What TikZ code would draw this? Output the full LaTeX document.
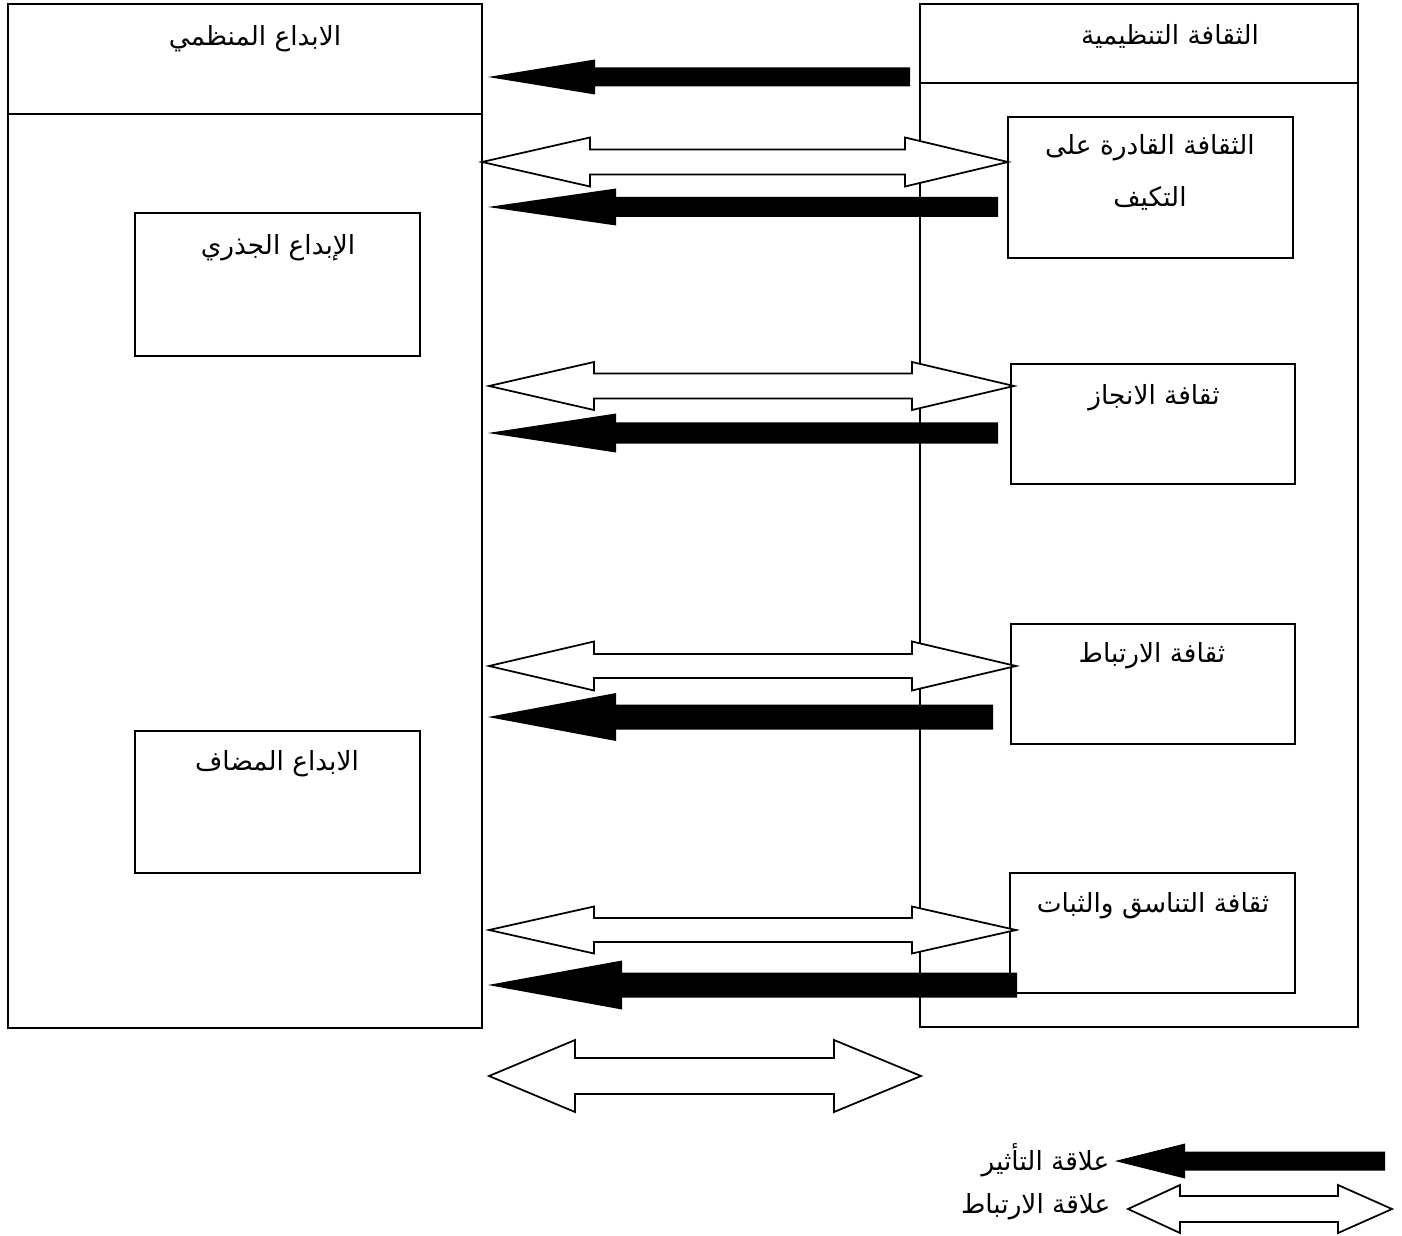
\documentclass[tikz,border=0pt]{standalone}
\usepackage{fontspec}
\newfontfamily\arabicfont[Script=Arabic]{DejaVu Sans}
\TeXXeTstate=1
\usepackage{tikz}
\usetikzlibrary{}

% influence arrow: tip x, y, head base x, tail x, shaft half, head half
\newcommand{\effectarrow}[6]{%
  \fill (#1,#2) -- (#3,#2-#6) -- (#3,#2-#5) -- (#4,#2-#5) -- (#4,#2+#5)
    -- (#3,#2+#5) -- (#3,#2+#6) -- cycle;}
% link arrow: left tip, left base, right base, right tip, y, shaft half, head half
\newcommand{\linkarrow}[7]{%
  \draw[fill=white] (#1,#5) -- (#2,#5-#7) -- (#2,#5-#6) -- (#3,#5-#6) -- (#3,#5-#7)
    -- (#4,#5) -- (#3,#5+#7) -- (#3,#5+#6) -- (#2,#5+#6) -- (#2,#5+#7) -- cycle;}

\tikzset{
  lbl/.style={font=\arabicfont\fontsize{15}{19}\selectfont, inner sep=1pt},
}

\begin{document}
\begin{tikzpicture}[x=0.02cm,y=-0.02cm,line width=1pt]
  \useasboundingbox (0,0) rectangle (1402,1236);
  % outer boxes
  \draw (8,4) rectangle (482,1028);
  \draw (8,114) -- (482,114);
  \draw (920,4) rectangle (1358,1027);
  \draw (920,83) -- (1358,83);
  \node[lbl] (inno) at (255,39) {\beginR الابداع المنظمي\endR};
  \node[lbl] (cult) at (1170,36) {\beginR الثقافة التنظيمية\endR};
  % inner boxes
  \draw (135,213) rectangle (420,356);
  \draw (135,731) rectangle (420,873);
  \draw (1008,117) rectangle (1293,258);
  \draw (1011,364) rectangle (1295,484);
  \draw (1011,624) rectangle (1295,744);
  \draw (1010,873) rectangle (1295,993);
  \node[lbl] (rad) at (278,248) {\beginR الإبداع الجذري\endR};
  \node[lbl] (incr) at (277,764) {\beginR الابداع المضاف\endR};
  \node[lbl] (adapt1) at (1150,148) {\beginR الثقافة القادرة على\endR};
  \node[lbl] (adapt2) at (1150,198) {\beginR التكيف\endR};
  \node[lbl] (achv) at (1154,398) {\beginR ثقافة الانجاز\endR};
  \node[lbl] (invl) at (1152,656) {\beginR ثقافة الارتباط\endR};
  \node[lbl] (cons) at (1153,906) {\beginR ثقافة التناسق والثبات\endR};
  % arrows
  \effectarrow{488}{77}{595}{910}{9.5}{17.5}
  \linkarrow{482}{590}{905}{1008}{162}{12.5}{24.5}
  \effectarrow{488}{207}{616}{998}{10}{18.5}
  \linkarrow{489}{594}{912}{1014}{386}{12.5}{24}
  \effectarrow{488}{433}{616}{998}{10.5}{19.5}
  \linkarrow{489}{594}{912}{1016}{666}{12}{24.5}
  \effectarrow{488}{717}{616}{993}{12.5}{24}
  \linkarrow{489}{594}{912}{1016}{930}{12}{23.5}
  \effectarrow{488}{985}{622}{1017}{12.5}{24.5}
  \linkarrow{489}{575}{834}{921}{1076}{18}{36}
  % legend
  \effectarrow{1115}{1161}{1185}{1385}{9.5}{17.5}
  \linkarrow{1128}{1180}{1338}{1392}{1209}{13}{24}
  \node[lbl,anchor=east] (keyeff) at (1112,1160) {\beginR علاقة التأثير\endR};
  \node[lbl,anchor=east] (keylink) at (1113,1207) {\beginR علاقة الارتباط\endR};
\end{tikzpicture}
\end{document}
